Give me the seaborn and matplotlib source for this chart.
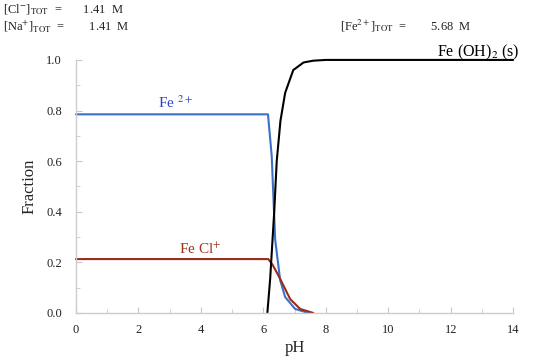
import matplotlib
matplotlib.use("Agg")
import matplotlib.pyplot as plt
import seaborn as sns
import pandas as pd

# ---- data ----
ph_fe2 = [0, 6.15, 6.27, 6.38, 6.54, 6.7, 7.02, 7.34, 7.5]
frac_fe2 = [0.785, 0.785, 0.62, 0.29, 0.13, 0.063, 0.016, 0.004, 0.0]

ph_fecl = [0, 6.16, 6.3, 6.54, 6.86, 7.18, 7.6]
frac_fecl = [0.213, 0.213, 0.19, 0.135, 0.055, 0.016, 0.0]

ph_feoh2 = [6.13, 6.22, 6.35, 6.43, 6.55, 6.7, 6.96, 7.29, 7.6, 8.0, 14.0]
frac_feoh2 = [0.0, 0.135, 0.40, 0.60, 0.76, 0.87, 0.96, 0.99, 0.997, 1.0, 1.0]

x_ticks = [0, 2, 4, 6, 8, 10, 12, 14]
y_ticks = [0.0, 0.2, 0.4, 0.6, 0.8, 1.0]

header_left = [r"[Cl$^{-}$]$_{\rm TOT}$  =       1.41  M",
               r"[Na$^{+}$]$_{\rm TOT}$  =        1.41  M"]
header_right = r"[Fe$^{2+}$]$_{\rm TOT}$  =        5.68  M"

sns.set_style("ticks")
plt.rcParams["font.family"] = ["Liberation Serif", "DejaVu Serif"]
plt.rcParams["mathtext.fontset"] = "stix"

fig = plt.figure(figsize=(5.5, 3.61), dpi=100)
ax = fig.add_axes([0.138, 0.133, 0.795, 0.701])

blue = "#3d6fc6"
red = "#9b2a1a"

sns.lineplot(x=ph_fe2, y=frac_fe2, ax=ax, color=blue, lw=1.5, sort=False)
sns.lineplot(x=ph_fecl, y=frac_fecl, ax=ax, color=red, lw=1.5, sort=False)
sns.lineplot(x=ph_feoh2, y=frac_feoh2, ax=ax, color="black", lw=1.5, sort=False)

ax.set_xlim(0, 14)
ax.set_ylim(0, 1.0)
ax.set_xticks(x_ticks)
ax.set_yticks(y_ticks)
ax.set_xticks(range(0, 15), minor=True)
ax.set_yticks([i / 10 for i in range(11)], minor=True)
ax.set_yticklabels([f"{v:.1f}" for v in y_ticks])
ax.tick_params(which="both", direction="in", color="#c8c8c8", labelsize=9,
               labelcolor="#222222")
ax.tick_params(which="major", length=4)
ax.tick_params(which="minor", length=3)
ax.tick_params(axis="x", pad=8)
ax.tick_params(axis="y", pad=10)
for s in ["top", "right"]:
    ax.spines[s].set_visible(False)
for s in ["left", "bottom"]:
    ax.spines[s].set_color("#cccccc")
    ax.spines[s].set_linewidth(1.0)

ax.set_xlabel("pH", fontsize=12, labelpad=3)
ax.set_ylabel("Fraction", fontsize=12, labelpad=6)

for line in ax.get_lines():
    line.set_clip_on(False)

ax.text(3.2, 0.83, r"Fe $^{2+}$", color="#2f45c8", fontsize=11, ha="center", va="center")
ax.text(3.97, 0.25, r"Fe Cl$^{+}$", color="#a0321e", fontsize=11, ha="center", va="center")
ax.text(14.2, 1.03, r"Fe (OH)$_2$ (s)", color="black", fontsize=11.5, ha="right", va="center")

fig.text(3 / 550, 1 - 10 / 361, header_left[0], fontsize=9, va="center", ha="left", color="#222222")
fig.text(3 / 550, 1 - 26 / 361, header_left[1], fontsize=9, va="center", ha="left", color="#222222")
fig.text(340 / 550, 1 - 26 / 361, header_right, fontsize=9, va="center", ha="left", color="#222222")

fig.savefig("out.png", dpi=100)
